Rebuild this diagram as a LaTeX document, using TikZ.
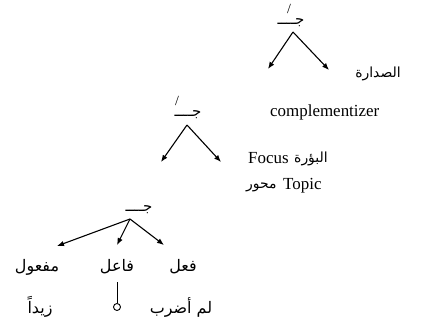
\documentclass[tikz,border=0pt]{standalone}
\usepackage{fontspec}
\setmainfont{Liberation Serif}
\newfontfamily\arabicfont[Script=Arabic]{DejaVu Sans}
\TeXXeTstate=1
\usetikzlibrary{arrows.meta}
\tikzset{
  edge/.style={line width=1.1bp, -{Latex[length=7bp,width=5.5bp]}},
  ar/.style={font=\arabicfont\fontsize{14}{16}\selectfont, inner sep=0pt},
  arb/.style={font=\arabicfont\fontsize{16}{18}\selectfont, inner sep=0pt},
  barlabel/.style={font=\arabicfont\fontsize{15}{17}\selectfont, inner sep=0pt},
  lat/.style={font=\fontsize{17}{20}\selectfont, inner sep=0pt},
  primemark/.style={font=\fontsize{14}{15}\selectfont, inner sep=0pt},
  emptycat/.style={circle, draw, line width=0.9bp, minimum size=7bp, inner sep=0pt}
}
\begin{document}
\begin{tikzpicture}[x=1bp,y=-1bp]
\useasboundingbox (0,0) rectangle (430,325);
% top level
\node[barlabel] (h1) at (291,23) {\beginR جــــ\endR};
\node[primemark] (p1) at (289,9) {/};
\coordinate (a1) at (293,32);
\coordinate (t1l) at (268,69);
\coordinate (t1r) at (329,70);
\draw[edge] (a1) -- (t1l);
\draw[edge] (a1) -- (t1r);
\node[ar] (sadara) at (378,74) {\beginR الصدارة\endR};
\node[lat, anchor=west] (comp) at (270,112) {complementizer};
% middle level
\node[barlabel] (h2) at (188,115) {\beginR جــــ\endR};
\node[primemark] (p2) at (177,101) {/};
\coordinate (a2) at (187,125);
\coordinate (t2l) at (161,162);
\coordinate (t2r) at (221,162);
\draw[edge] (a2) -- (t2l);
\draw[edge] (a2) -- (t2r);
\node[lat, anchor=west] (focus) at (248,158) {Focus};
\node[ar, anchor=west] (bura) at (294,159) {\beginR البؤرة\endR};
\node[ar, anchor=west] (mihwar) at (246,187) {\beginR محور\endR};
\node[lat, anchor=west] (topic) at (283,186) {Topic};
% bottom level
\node[barlabel] (h3) at (139,210) {\beginR جــــ\endR};
\coordinate (a3) at (130,219);
\coordinate (t3l) at (57,246);
\coordinate (t3m) at (117,245);
\coordinate (t3r) at (164,245);
\draw[edge] (a3) -- (t3l);
\draw[edge] (a3) -- (t3m);
\draw[edge] (a3) -- (t3r);
\node[arb] (mafool) at (37,267) {\beginR مفعول\endR};
\node[arb] (fail) at (117,267) {\beginR فاعل\endR};
\node[arb] (fil) at (183,267) {\beginR فعل\endR};
\node[emptycat] (pro) at (117,307) {};
\coordinate (fb) at (117,282);
\draw[line width=0.9bp] (fb) -- (pro);
\node[arb] (zayd) at (40,307) {\beginR زيداً\endR};
\node[arb] (adrib) at (181,307) {\beginR لم أضرب\endR};
\end{tikzpicture}
\end{document}
